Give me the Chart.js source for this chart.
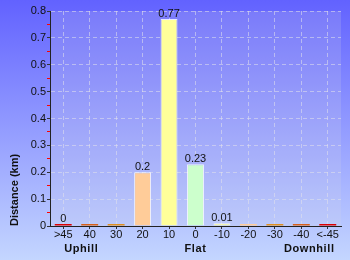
<!DOCTYPE html>
<html>
<head>
<meta charset="utf-8">
<script src="https://cdn.jsdelivr.net/npm/chart.js@4"></script>
<style>
  body { margin: 0; }
  #wrap { width: 350px; height: 260px; }
</style>
</head>
<body>
<div id="wrap"><canvas id="chart"></canvas></div>
<script>
const categories = ['>45', '40', '30', '20', '10', '0', '-10', '-20', '-30', '-40', '<-45'];
const distances = [0, 0, 0, 0.2, 0.77, 0.23, 0.01, 0, 0, 0, 0];
const valueLabels = ['0', '', '', '0.2', '0.77', '0.23', '0.01', '', '', '', ''];
const barColors = ['#dd0000', '#d86018', '#e09020', '#ffcc99', '#ffff99', '#ccffcc',
    '#ffff99', '#ffcc99', '#e09020', '#d86018', '#dd0000'];
const groupLabels = ['Uphill', 'Flat', 'Downhill'];

const font = 'Liberation Sans, Arial, sans-serif';

function isMajor(v) {
    return Math.round(v * 100) % 10 === 0;
}

// page + plot backgrounds
const background = {
    id: 'background',
    beforeDraw(c) {
        const ctx = c.ctx;
        const g = ctx.createLinearGradient(0, 0, 0, c.height);
        g.addColorStop(0, '#6262ff');
        g.addColorStop(1, '#c4d6ff');
        ctx.save();
        ctx.fillStyle = g;
        ctx.fillRect(0, 0, c.width, c.height);
        const a = c.chartArea;
        ctx.fillStyle = 'rgba(215,215,225,0.18)';
        ctx.fillRect(a.left, a.top, a.right - a.left, a.bottom - a.top);
        ctx.restore();
    }
};

// value labels above bars and the uphill / flat / downhill captions
const labels = {
    id: 'labels',
    afterDatasetsDraw(c) {
        const ctx = c.ctx;
        const meta = c.getDatasetMeta(0);
        const step = meta.data[1].x - meta.data[0].x;
        ctx.save();
        ctx.font = '11px ' + font;
        ctx.fillStyle = '#111';
        ctx.textAlign = 'center';
        ctx.textBaseline = 'bottom';
        meta.data.forEach((bar, i) => {
            if (valueLabels[i]) ctx.fillText(valueLabels[i], bar.x, bar.y);
        });
        ctx.font = 'bold 11px ' + font;
        ctx.letterSpacing = '0.6px';
        ctx.textBaseline = 'middle';
        ctx.fillText(groupLabels[0], meta.data[0].x + step * 0.68, 249);
        ctx.fillText(groupLabels[1], meta.data[5].x, 249);
        ctx.fillText(groupLabels[2], meta.data[9].x + step * 0.3, 249);
        ctx.restore();
    }
};

new Chart(document.getElementById('chart'), {
    type: 'bar',
    data: {
        labels: categories,
        datasets: [{
            data: distances,
            backgroundColor: barColors,
            borderColor: 'rgba(255,255,255,0.8)',
            borderWidth: c => c.raw === 0 ? 0 : 1,
            minBarLength: 2,
            categoryPercentage: 0.8,
            barPercentage: 0.8
        }]
    },
    options: {
        responsive: true,
        maintainAspectRatio: false,
        animation: false,
        layout: { padding: { top: 11, right: 9, left: 0, bottom: 0 } },
        plugins: {
            legend: { display: false },
            tooltip: { enabled: false }
        },
        scales: {
            x: {
                grid: {
                    offset: false,
                    color: 'rgba(225,225,235,0.55)',
                    tickColor: '#333',
                    tickLength: 3
                },
                border: { color: '#222', dash: [4, 3] },
                ticks: { color: '#111', font: { family: font, size: 11 }, padding: -1, maxRotation: 0 },
                afterFit(s) { s.height = 34; }
            },
            y: {
                min: 0,
                max: 0.8,
                ticks: {
                    stepSize: 0.05,
                    autoSkip: false,
                    color: '#111',
                    padding: 1,
                    font: { family: font, size: 11 },
                    callback: v => isMajor(v) ? String(Math.round(v * 10) / 10) : ''
                },
                grid: {
                    color: c => isMajor(c.tick.value) ? 'rgba(225,225,235,0.55)' : 'rgba(0,0,0,0)',
                    tickColor: c => isMajor(c.tick.value) ? '#333' : '#ff0000',
                    tickLength: 3
                },
                border: { color: '#222', dash: [4, 3] },
                title: {
                    display: true,
                    text: 'Distance (km)',
                    align: 'start',
                    color: '#111',
                    font: { family: font, size: 11, weight: 'bold' },
                    padding: { top: 8, bottom: 0 }
                },
                afterFit(s) { s.width = 50; }
            }
        }
    },
    plugins: [background, labels]
});
</script>
</body>
</html>
